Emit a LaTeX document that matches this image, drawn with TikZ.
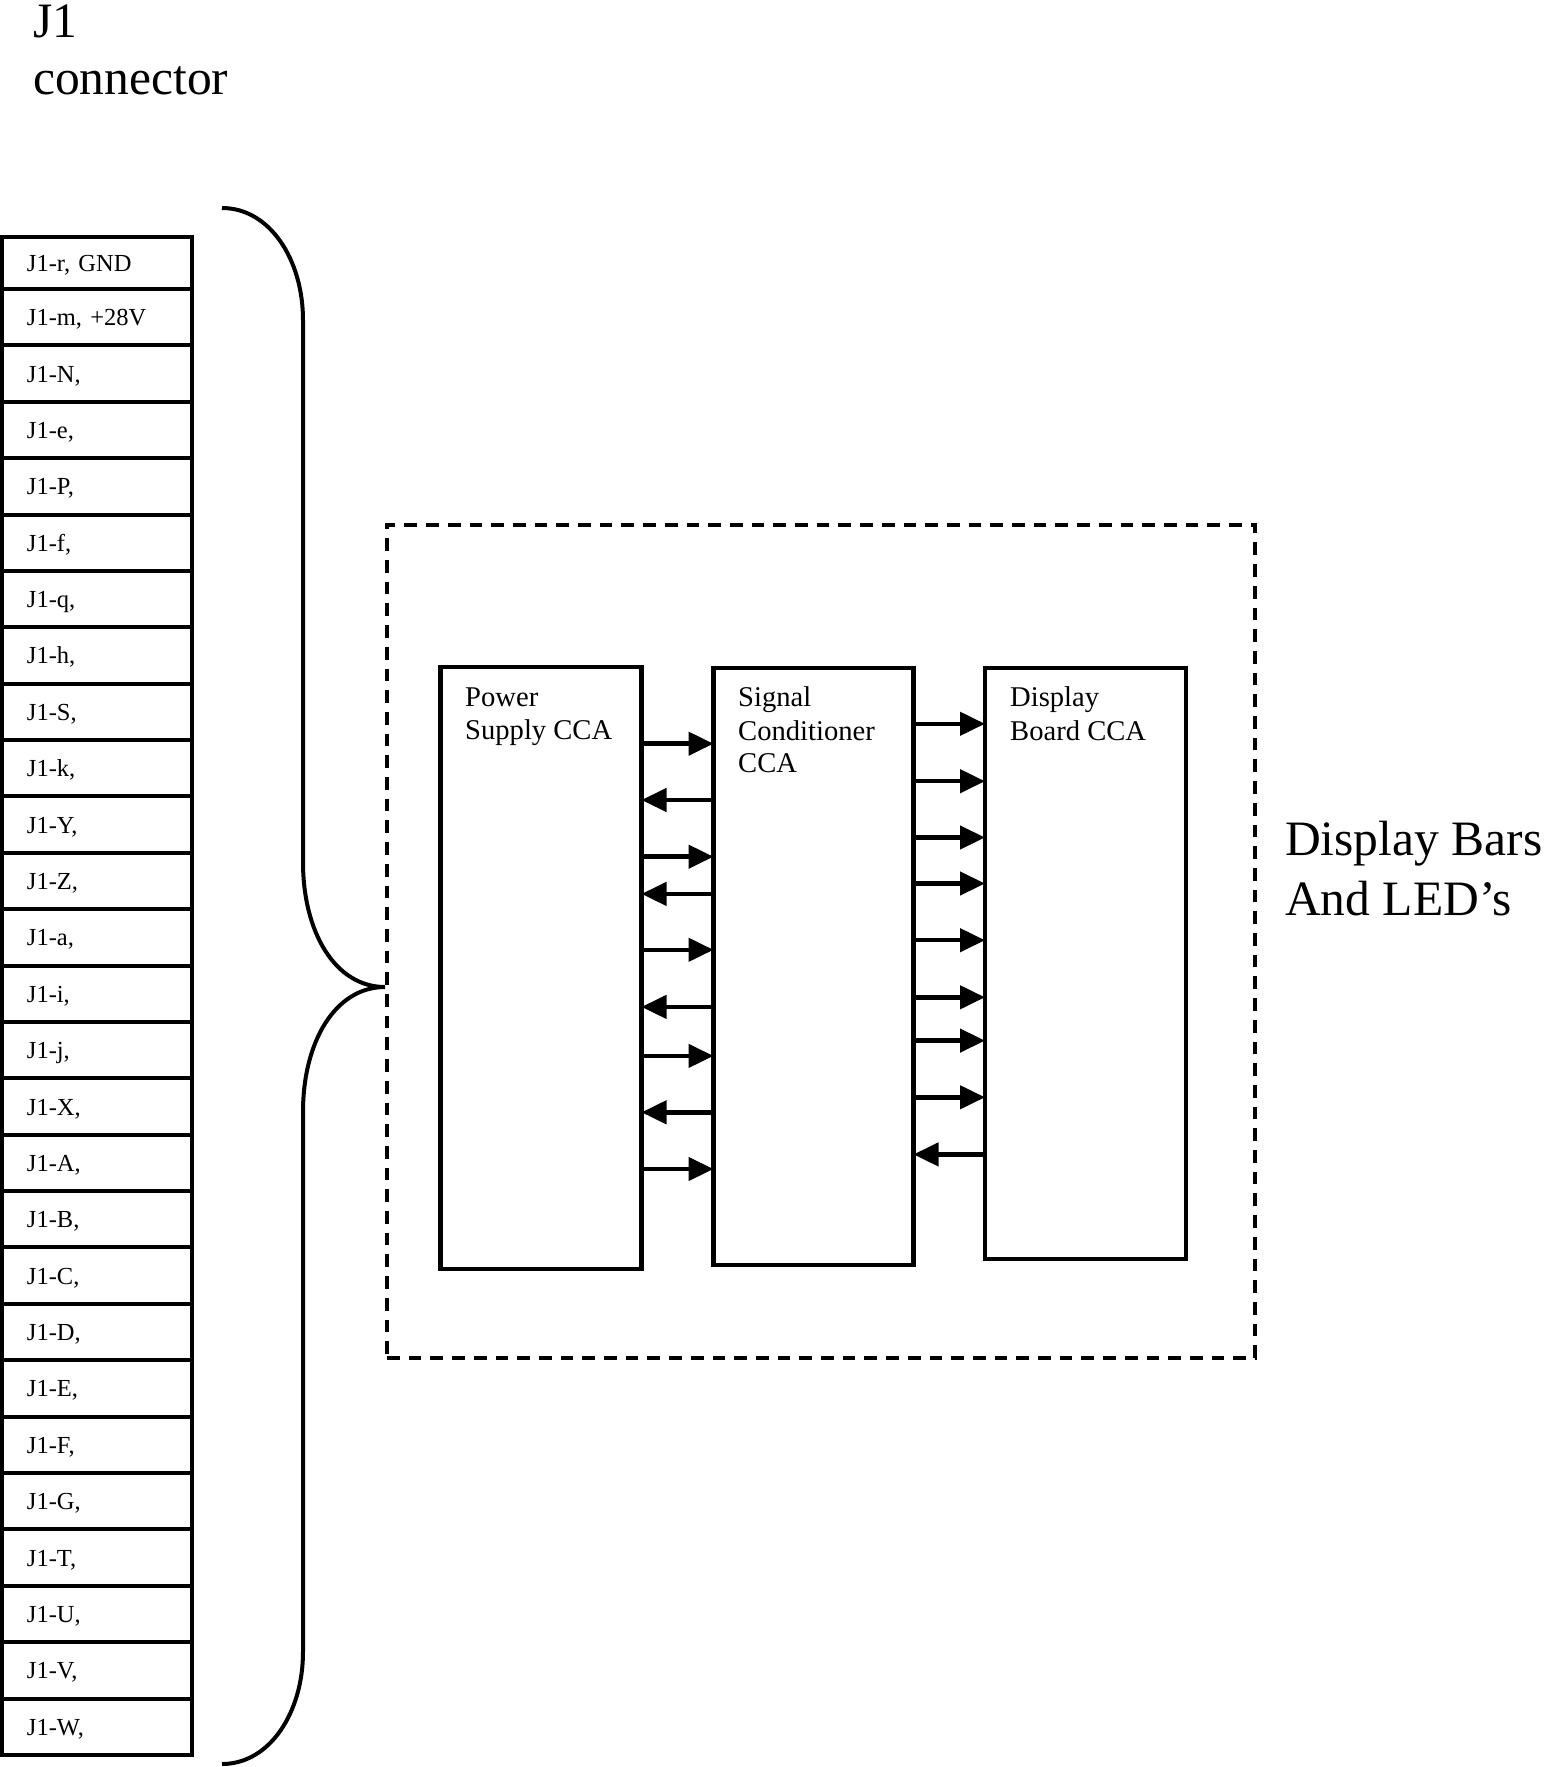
\documentclass[tikz,border=0pt]{standalone}
\usepackage{fontspec}
\setmainfont{Liberation Serif}
\usetikzlibrary{arrows.meta}
\begin{document}
\frenchspacing
\begin{tikzpicture}[x=1pt,y=-1pt,
  blk/.style={draw, line width=4.5pt, inner sep=0pt, outer sep=0pt, anchor=north west},
  pinrow/.style={draw, line width=4pt, minimum width=190pt, text width=140pt, align=left,
    inner xsep=25pt, inner ysep=0pt, outer sep=0pt, anchor=north west,
    font=\fontsize{24.5}{28}\selectfont\frenchspacing, text height=17pt, text depth=0pt},
  lbl/.style={inner sep=0pt, anchor=base west, font=\fontsize{28.6}{33}\selectfont},
  big/.style={inner sep=0pt, anchor=base west, font=\fontsize{49.5}{60}\selectfont},
  sig/.style={line width=4.5pt, -{Triangle[length=25pt,width=23pt]}},
  grpbox/.style={draw, line width=4pt, dash pattern=on 12.7pt off 9pt, inner sep=0pt, outer sep=0pt, anchor=north west}
]
\useasboundingbox[fill=white] (0,0) rectangle (1557,1767);

% title
\node[big] (t1) at (33,37) {J1};
\node[big] (t2) at (33,94) {connector};

% connector pins
\node[pinrow, minimum height=52pt] (r0) at (2,237) {J1-r, GND};
\foreach \lab [count=\k from 1] in {{J1-m, +28V},{J1-N,},{J1-e,},{J1-P,},{J1-f,},{J1-q,},{J1-h,},{J1-S,},{J1-k,},{J1-Y,},{J1-Z,},{J1-a,},{J1-i,},{J1-j,},{J1-X,},{J1-A,},{J1-B,},{J1-C,},{J1-D,},{J1-E,},{J1-F,},{J1-G,},{J1-T,},{J1-U,},{J1-V,},{J1-W,}}
  \node[pinrow, minimum height=56.38pt] (r\k) at (2,{289+56.38*(\k-1)}) {\lab};

% brace
\coordinate (tip) at (385,987);
\draw[line width=4pt] (222,208) .. controls (270,208) and (303,260) .. (303,320)
  -- (303,862) .. controls (303,932) and (335,987) .. (tip)
  .. controls (335,987) and (303,1042) .. (303,1112)
  -- (303,1652) .. controls (303,1712) and (270,1764) .. (222,1764);

% group box
\node[grpbox, minimum width=868pt, minimum height=833pt] (grp) at (387,525) {};

% boards
\node[blk, minimum width=201pt, minimum height=602pt] (ps) at (440.5,667) {};
\node[blk, minimum width=200pt, minimum height=597pt] (sc) at (713.5,668) {};
\node[blk, minimum width=201pt, minimum height=591pt] (db) at (985,668) {};

\node[lbl] (psa) at (465,706.5) {Power};
\node[lbl] (psb) at (465,739) {Supply CCA};
\node[lbl] (sca) at (738,706.5) {Signal};
\node[lbl] (scb) at (738,740) {Conditioner};
\node[lbl] (scc) at (738,772.5) {CCA};
\node[lbl] (dba) at (1010,706) {Display};
\node[lbl] (dbb) at (1010,740) {Board CCA};

% arrows power <-> signal
\foreach \yy in {743.7,856.7,949.8,1055.9,1169}
  \draw[sig] (ps.east |- 0,\yy) -- (sc.west |- 0,\yy);
\foreach \yy in {800,893.9,1006.9,1112.3}
  \draw[sig] (sc.west |- 0,\yy) -- (ps.east |- 0,\yy);

% arrows signal <-> display
\foreach \yy in {723.8,781.2,837.5,883.5,940.2,997.3,1040.6,1097.3}
  \draw[sig] (sc.east |- 0,\yy) -- (db.west |- 0,\yy);
\draw[sig] (db.west |- 0,1154.4) -- (sc.east |- 0,1154.4);

% right label
\node[big] (dl1) at (1285,855) {Display Bars};
\node[big] (dl2) at (1285,915) {And LED’s};
\end{tikzpicture}
\end{document}
